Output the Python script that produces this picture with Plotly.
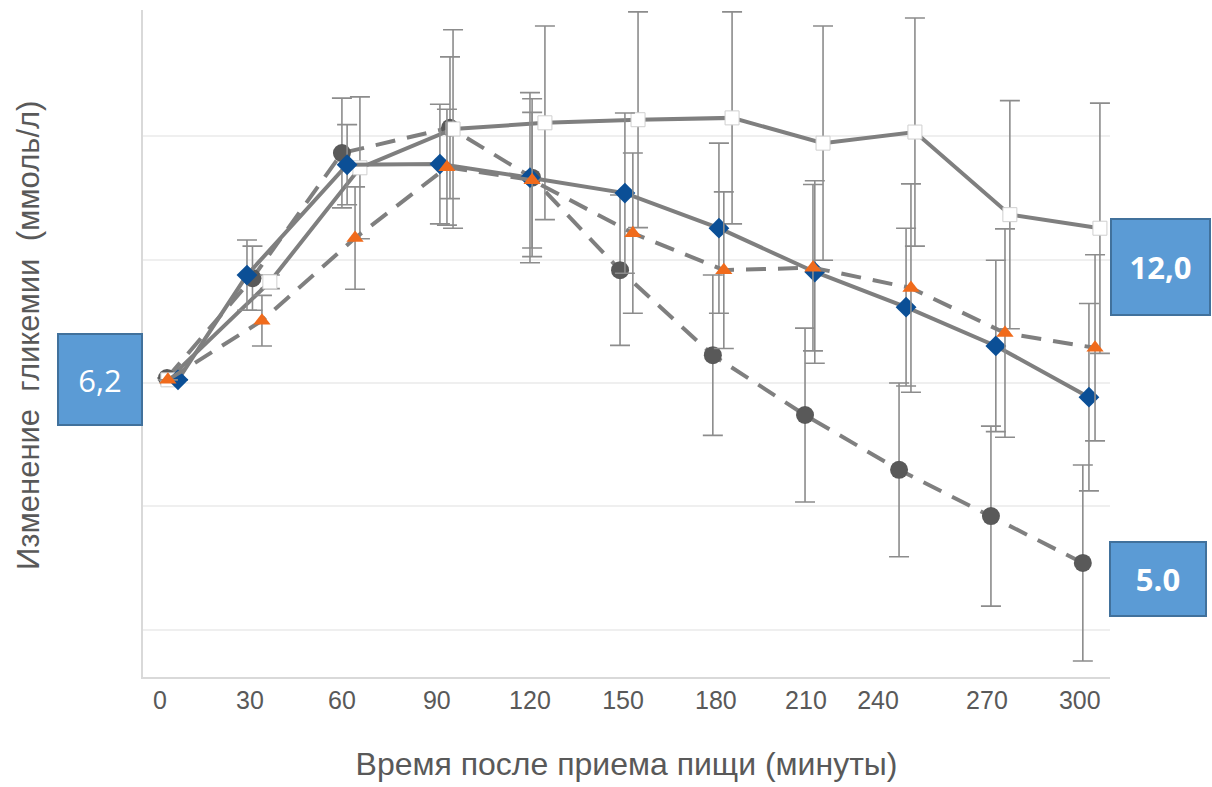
import plotly.graph_objects as go

# ---- data ----
# time of measurement (minutes), each series slightly shifted as in the original
x_circle = [0, 28, 57.3, 92.7, 119.6, 148.4, 178.8, 209.0, 239.8, 269.9, 300.0]
y_circle = [6.08, 7.70, 9.73, 10.14, 9.33, 7.83, 6.45, 5.48, 4.59, 3.84, 3.08]
e_circle = [0, 0.52, 0.89, 1.15, 1.28, 1.22, 1.30, 1.41, 1.41, 1.46, 1.59]

x_square = [0.3, 33.7, 63.2, 93.7, 123.8, 154.3, 185.1, 214.9, 245.0, 276.1, 305.6]
y_square = [6.05, 7.64, 9.49, 10.12, 10.22, 10.27, 10.30, 9.89, 10.07, 8.73, 8.51]
e_square = [0, 0.11, 1.15, 1.61, 1.57, 1.75, 1.72, 1.90, 1.85, 1.85, 2.03]

x_diamond = [3.6, 26.2, 59.0, 89.4, 118.9, 150.0, 180.8, 212.2, 242.1, 271.5, 302.0]
y_diamond = [6.05, 7.75, 9.54, 9.55, 9.33, 9.08, 8.51, 7.80, 7.23, 6.60, 5.77]
e_diamond = [0, 0.57, 0.65, 0.97, 1.38, 1.30, 1.38, 1.48, 1.28, 1.39, 1.52]

x_triangle = [0.3, 31.1, 61.6, 91.7, 119.6, 152.6, 182.4, 211.6, 243.7, 274.5, 304.0]
y_triangle = [6.05, 7.01, 8.35, 9.50, 9.29, 8.43, 7.83, 7.87, 7.54, 6.81, 6.57]
e_triangle = [0, 0.41, 0.83, 0.94, 1.10, 1.30, 1.27, 1.35, 1.69, 1.69, 1.51]

tick_text = ["0", "30", "60", "90", "120", "150", "180", "210", "240", "270", "300"]
tick_pos = [-2.3, 27.2, 57.3, 88.4, 118.9, 149.4, 179.8, 209.3, 232.9, 268.6, 299.0]
grid_vals = [2, 4, 6, 8, 10]

label_start = "6,2"
label_top = "12,0"
label_bottom = "5.0"

x_title = "Время после приема пищи (минуты)"
y_title = "Изменение  гликемии  (ммоль/л)"

# ---- styling ----
LINE = "#7f7f7f"
ERR = dict(type="data", visible=True, color="#8c8c8c", thickness=1.6, width=10)
FONT = "Liberation Sans, Arial, sans-serif"
TXT = "#595959"

fig = go.Figure()


def add(x, y, e, dash, marker):
    fig.add_trace(go.Scatter(
        x=x, y=y, mode="lines+markers",
        line=dict(color=LINE, width=4, dash=dash),
        marker=marker,
        error_y=dict(array=e, **ERR),
        showlegend=False, hoverinfo="skip",
    ))


add(x_circle, y_circle, e_circle, "20px,12px",
    dict(symbol="circle", size=18, color="#595959", line=dict(width=0)))
add(x_square, y_square, e_square, "solid",
    dict(symbol="square", size=14, color="white", line=dict(width=1, color="#cfcfcf")))
add(x_diamond, y_diamond, e_diamond, "solid",
    dict(symbol="diamond", size=16, color="#0b4f96", line=dict(width=0)))
add(x_triangle, y_triangle, e_triangle, "20px,12px",
    dict(symbol="triangle-up", size=15, color="#f06b1c", line=dict(width=0)))

# plot area in pixels: x 143..1110, y 10..677
L, R, T, B = 143, 1110, 10, 677
W, H = R - L, B - T


def px2paper(px, py):
    return (px - L) / W, (B - py) / H


def box(text, cx, cy, w, h, bold):
    xp, yp = px2paper(cx, cy)
    fig.add_annotation(
        x=xp, y=yp, xref="paper", yref="paper", xanchor="center", yanchor="middle",
        text=f"<b>{text}</b>" if bold else text, showarrow=False,
        width=w, height=h, bgcolor="#5b9bd5", bordercolor="#41719c",
        borderwidth=2, borderpad=0, align="center", valign="middle",
        font=dict(family="Open Sans, Liberation Sans, sans-serif", size=31, color="white"),
    )


box(label_start, 100, 379.5, 82, 89, False)
box(label_top, 1160.5, 267, 97, 94, True)
box(label_bottom, 1158, 579, 94, 72, True)

fig.update_layout(
    width=1212, height=787,
    margin=dict(l=L, r=1212 - R, t=T, b=787 - B),
    paper_bgcolor="white", plot_bgcolor="white",
    font=dict(family=FONT, color=TXT),
    xaxis=dict(
        range=[-7.86, 308.9], tickmode="array", tickvals=tick_pos, ticktext=tick_text,
        showgrid=False, zeroline=False, showline=True, linecolor="#d9d9d9", linewidth=2,
        ticks="", tickfont=dict(size=25, color=TXT, family=FONT),
        title=dict(text=x_title, font=dict(size=32, color=TXT, family=FONT), standoff=40),
    ),
    yaxis=dict(
        range=[1.23, 12.05], tickmode="array", tickvals=grid_vals, showticklabels=False,
        showgrid=True, gridcolor="#efefef", gridwidth=1.5, zeroline=False,
        showline=True, linecolor="#d9d9d9", linewidth=2, ticks="",
    ),
)

yx, yy = px2paper(28, 336)
fig.add_annotation(
    x=yx, y=yy, xref="paper", yref="paper", text=y_title, showarrow=False, textangle=-90,
    font=dict(size=31, color=TXT, family=FONT), xanchor="center", yanchor="middle",
)

fig.write_html("out.html")
